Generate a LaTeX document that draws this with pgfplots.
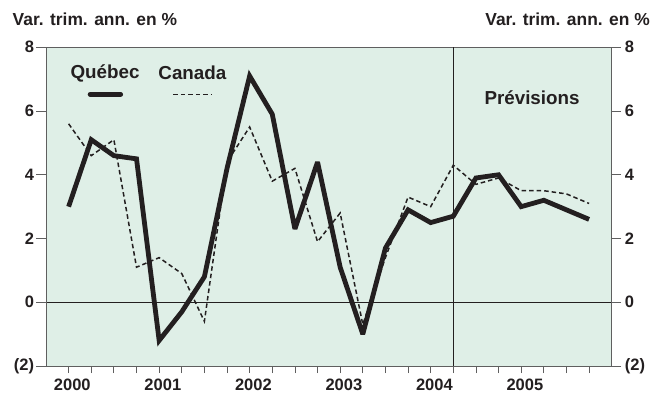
\documentclass[border=0pt]{standalone}
\usepackage{fontspec}
\setmainfont{Liberation Sans}
\usepackage{pgfplots}
\usepackage{pgfplotstable}
\pgfplotsset{compat=1.18}

\definecolor{bgpanel}{RGB}{223,239,231}
\definecolor{ink}{RGB}{35,31,32}
\definecolor{framegray}{RGB}{95,95,95}

% Quarterly annualised growth, 2000Q1 (q=0) to 2005Q4 (q=23)
\pgfplotstableread{
q  quebec canada
0   3.0   5.6
1   5.1   4.6
2   4.6   5.1
3   4.5   1.1
4  -1.2   1.4
5  -0.3   0.9
6   0.8  -0.6
7   4.2   4.4
8   7.1   5.5
9   5.9   3.8
10  2.3   4.2
11  4.4   1.9
12  1.1   2.8
13 -1.0  -0.7
14  1.7   1.4
15  2.9   3.3
16  2.5   3.0
17  2.7   4.3
18  3.9   3.7
19  4.0   3.9
20  3.0   3.5
21  3.2   3.5
22  2.9   3.4
23  2.6   3.1
}\growth

\newcommand{\tickfont}{\fontsize{16.5}{16.5}\selectfont\bfseries}
\newcommand{\headfont}{\fontsize{17.4}{17.4}\selectfont\bfseries}
\newcommand{\keyfont}{\fontsize{18.8}{18.8}\selectfont\bfseries}

\pgfplotsset{
  panel/.style={
    at={(46pt,28pt)}, anchor=south west,
    width=565.7pt, height=318.7pt, scale only axis,
    xmin=-1, xmax=24, ymin=-2, ymax=8,
    ytick={-2,0,2,4,6,8},
    yticklabels={\textbf{(2)},\textbf{0},\textbf{2},\textbf{4},\textbf{6},\textbf{8}},
    tick align=outside,
    tick style={framegray, line width=0.8pt},
    axis line style={framegray, line width=0.8pt},
    ticklabel style={font=\tickfont, text=ink, inner sep=0pt},
  }
}

\begin{document}
\begin{tikzpicture}
\useasboundingbox (0,0) rectangle (663pt,394pt);

% main panel: quarterly x ticks, left-hand labels
\begin{axis}[
  panel,
  major tick length=7pt,
  axis background/.style={fill=bgpanel},
  xtick={0,...,23},
  xticklabels={\textbf{2000},,,,\textbf{2001},,,,\textbf{2002},,,,\textbf{2003},,,,\textbf{2004},,,,\textbf{2005},,,},
  xtick pos=bottom,
  ytick pos=left,
  ytick style={draw=none},
  xticklabel style={xshift=3.7pt, yshift=-6pt},
  yticklabel style={xshift=-4.7pt},
]
  % reference lines: zero growth and start of the forecast period
  \addplot[ink, line width=0.8pt] coordinates {(-1,0) (24,0)};
  \addplot[ink, line width=0.8pt] coordinates {(17,-2) (17,8)};

  \addplot[ink, line width=1.5pt, dash pattern=on 4.5pt off 3pt] table[x=q, y=canada] {\growth};
  \addplot[ink, line width=4.8pt, line join=miter, miter limit=3] table[x=q, y=quebec] {\growth};

  % key
  \node[font=\keyfont, text=ink] at (axis cs:1.61,7.19) {Québec};
  \node[font=\keyfont, text=ink] at (axis cs:5.47,7.19) {Canada};
  \draw[ink, line width=4.8pt, line cap=round] (axis cs:0.95,6.525) -- (axis cs:2.3,6.525);
  \draw[ink, line width=1.5pt, dash pattern=on 4.5pt off 3pt] (axis cs:4.63,6.525) -- (axis cs:6.35,6.525);

  \node[font=\keyfont, text=ink] at (axis cs:20.48,6.43) {Prévisions};
\end{axis}

% y ticks on both sides, labels on the right
\begin{axis}[
  panel,
  major tick length=9.5pt,
  hide x axis,
  ytick pos=both,
  yticklabel pos=right,
  yticklabel style={xshift=3.5pt},
]
\end{axis}

\node[anchor=base west, inner sep=0pt, font=\headfont, text=ink] at (12.5pt,368pt) {Var. trim. ann. en \%};
\node[anchor=base east, inner sep=0pt, font=\headfont, text=ink] at (650pt,368pt) {Var. trim. ann. en \%};
\end{tikzpicture}
\end{document}
